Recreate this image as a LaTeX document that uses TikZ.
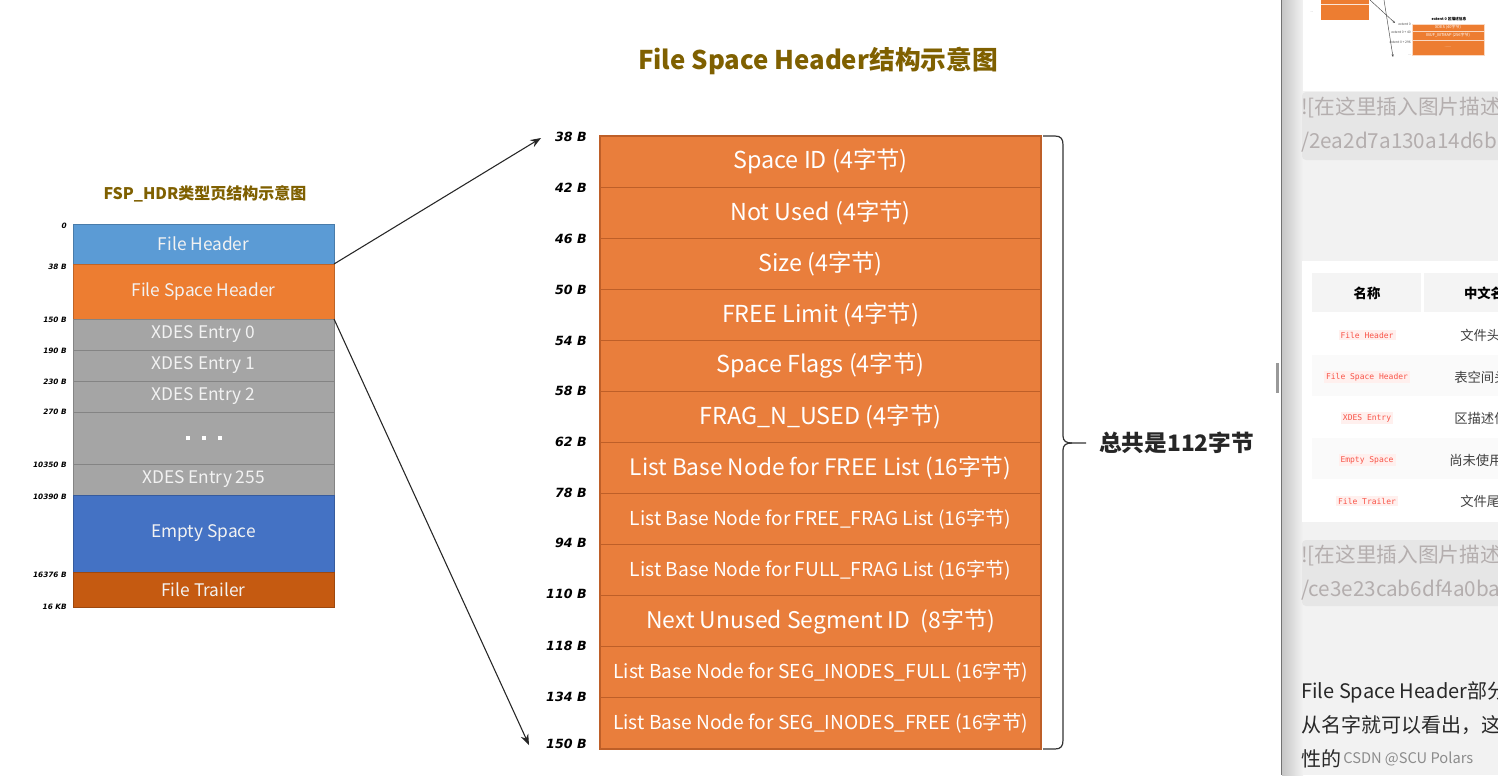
\documentclass[tikz,border=0pt]{standalone}
\usepackage{fontspec}
\setmainfont{Noto Sans CJK SC}
\newfontfamily\labfont{DejaVu Sans}
\newfontfamily\monofont{DejaVu Sans Mono}
\usetikzlibrary{arrows.meta}
\definecolor{lblue}{RGB}{91,155,213}
\definecolor{lorange}{RGB}{237,125,49}
\definecolor{lgray}{RGB}{165,165,165}
\definecolor{lblueb}{RGB}{68,114,196}
\definecolor{lbrown}{RGB}{197,90,17}
\definecolor{rorange}{RGB}{233,126,60}
\definecolor{rsep}{RGB}{190,95,40}
\definecolor{ttl}{RGB}{127,96,0}
\definecolor{ltext}{RGB}{242,242,242}
\definecolor{panelbg}{RGB}{242,242,242}
\definecolor{codebg}{RGB}{230,230,230}
\definecolor{codetext}{RGB}{180,174,174}
\definecolor{tagred}{RGB}{249,84,72}
\definecolor{tagbg}{RGB}{255,240,238}
\definecolor{thcell}{RGB}{244,244,244}
\definecolor{altrow}{RGB}{250,250,250}
\definecolor{bodytext}{RGB}{40,40,40}
\tikzset{
  lbox/.style={minimum width={261*0.75pt}, inner sep=0pt, outer sep=0pt, text=ltext,
    font=\fontsize{13}{13}\selectfont},
  rbox/.style={fill=rorange, draw=rsep, line width=0.8pt, minimum width={441*0.75pt},
    minimum height={51.083*0.75pt}, inner sep=0pt, outer sep=0pt, text=white},
  loff/.style={anchor=east, inner sep=0pt, font=\labfont\bfseries\itshape\fontsize{5.5}{5.5}\selectfont},
  roff/.style={anchor=east, inner sep=0pt, font=\labfont\bfseries\itshape\fontsize{9.5}{9.5}\selectfont},
  ttlstyle/.style={text=ttl, inner sep=0pt, font=\bfseries},
  conn/.style={draw=black!85, line width=0.8pt, -{Stealth[length=8pt,width=6pt]}},
  codeline/.style={anchor=west, inner sep=0pt, text=codetext, font=\fontsize{15.5}{15.5}\selectfont},
  tag/.style={fill=tagbg, text=tagred, inner sep=1.5pt, font=\monofont\fontsize{6}{6}\selectfont},
  cncell/.style={text=black!75, inner sep=0pt, font=\fontsize{10}{10}\selectfont},
  tiny/.style={inner sep=0pt, font=\fontsize{2.5}{2.5}\selectfont},
}
\newcommand\lrow[5]{\node[lbox, fill=#4, draw=#4!80!black, line width=0.6pt,
  minimum height={(#3-#2)*0.75pt}] (#1) at (203.5,{(#2+#3)/2}) {#5};}
\newcommand\rrow[4]{\node[rbox, font=\fontsize{#3}{#3}\selectfont] (#1) at (820.5,{136+51.083*(#2-0.5)}) {#4};}
\begin{document}
\begin{tikzpicture}[x=0.75pt,y=-0.75pt]
\useasboundingbox (0,0) rectangle (1498,775);
\fill[white] (0,0) rectangle (1498,775);

% ---------- left diagram ----------
\node[ttlstyle, font=\bfseries\fontsize{12}{12}\selectfont] (t1) at (205,194) {FSP\_HDR类型页结构示意图};
\lrow{fh}{224}{264}{lblue}{File Header}
\lrow{fsh}{264}{319}{lorange}{File Space Header}
\lrow{x0}{319}{350}{lgray}{XDES Entry 0}
\lrow{x1}{350}{381}{lgray}{XDES Entry 1}
\lrow{x2}{381}{412}{lgray}{XDES Entry 2}
\lrow{xd}{412}{464}{lgray}{\color{white}\rule{3pt}{3pt}\hspace{9pt}\rule{3pt}{3pt}\hspace{9pt}\rule{3pt}{3pt}}
\lrow{x255}{464}{495}{lgray}{XDES Entry 255}
\lrow{es}{495}{572}{lblueb}{Empty Space}
\lrow{ft}{572}{607}{lbrown}{File Trailer}

\node[loff] (lo0) at (67,226) {0};
\node[loff] (lo1) at (67,267) {38 B};
\node[loff] (lo2) at (67,320) {150 B};
\node[loff] (lo3) at (67,351) {190 B};
\node[loff] (lo4) at (67,382) {230 B};
\node[loff] (lo5) at (67,412) {270 B};
\node[loff] (lo6) at (67,465) {10350 B};
\node[loff] (lo7) at (67,497) {10390 B};
\node[loff] (lo8) at (67,575) {16376 B};
\node[loff] (lo9) at (67,607) {16 KB};

% ---------- right diagram ----------
\node[ttlstyle, font=\bfseries\fontsize{19.3}{19.3}\selectfont] (t2) at (818,61) {File Space Header结构示意图};
\rrow{r1}{1}{17.5}{Space ID (4字节)}
\rrow{r2}{2}{17.5}{Not Used (4字节)}
\rrow{r3}{3}{17.5}{Size (4字节)}
\rrow{r4}{4}{17.5}{FREE Limit (4字节)}
\rrow{r5}{5}{17.5}{Space Flags (4字节)}
\rrow{r6}{6}{17.5}{FRAG\_N\_USED (4字节)}
\rrow{r7}{7}{17}{List Base Node for FREE List (16字节)}
\rrow{r8}{8}{14.4}{List Base Node for FREE\_FRAG List (16字节)}
\rrow{r9}{9}{14.4}{List Base Node for FULL\_FRAG List (16字节)}
\rrow{r10}{10}{17.2}{Next Unused Segment ID\ \ (8字节)}
\rrow{r11}{11}{14.4}{List Base Node for SEG\_INODES\_FULL (16字节)}
\rrow{r12}{12}{14.4}{List Base Node for SEG\_INODES\_FREE (16字节)}

\node[roff] (ro1) at (587,137) {38 B};
\node[roff] (ro2) at (587,188) {42 B};
\node[roff] (ro3) at (587,239) {46 B};
\node[roff] (ro4) at (587,290) {50 B};
\node[roff] (ro5) at (587,341) {54 B};
\node[roff] (ro6) at (587,391) {58 B};
\node[roff] (ro7) at (587,442) {62 B};
\node[roff] (ro8) at (587,493) {78 B};
\node[roff] (ro9) at (587,543) {94 B};
\node[roff] (ro10) at (587,594) {110 B};
\node[roff] (ro11) at (587,646) {118 B};
\node[roff] (ro12) at (587,697) {134 B};
\node[roff] (ro13) at (587,744) {150 B};

% connectors
\coordinate (a1) at (541,138);
\coordinate (a2) at (529,745);
\draw[conn] (fsh.north east) -- (a1);
\draw[conn] (fsh.south east) -- (a2);

% brace
\draw[black!80, line width=0.9pt]
  (1043,136) -- (1055,136) .. controls (1061,136) and (1063,139) .. (1063,145)
  -- (1063,436) .. controls (1063,441) and (1066,443) .. (1072,443) -- (1086,443);
\draw[black!80, line width=0.9pt]
  (1072,443) .. controls (1066,443) and (1063,445) .. (1063,450)
  -- (1063,740) .. controls (1063,746) and (1061,749) .. (1055,749) -- (1043,749);
\node[anchor=west, inner sep=0pt, font=\bfseries\fontsize{17}{17}\selectfont, text=black!85] (tot) at (1099,443) {总共是112字节};

% ---------- browser side panel ----------
\fill[black!40] (1276,363) rectangle (1278.5,393);
\begin{scope}
\clip (1281,0) rectangle (1498,775);
\fill[panelbg] (1281,0) rectangle (1498,775);
\shade[left color=black!22, right color=panelbg] (1282,0) rectangle (1303,775);
\draw[black!55, line width=1.2pt] (1281.5,0) -- (1281.5,775);

% thumbnail
\fill[white] (1303,0) rectangle (1498,91);
\fill[lorange] (1321,0) rectangle (1369,20);
\draw[white!80!lorange, line width=0.4pt] (1321,4) -- (1369,4);
\node[tiny, text=black!60] (tl2) at (1312,12) {...};
\coordinate (tc1) at (1395,23);
\coordinate (tc2) at (1393,57);
\draw[black!70, line width=0.35pt, -{Stealth[length=2pt,width=1.6pt]}] (1370,0) -- (tc1);
\draw[black!70, line width=0.35pt, -{Stealth[length=2pt,width=1.6pt]}] (1384,0) -- (tc2);
\node[tiny, font=\bfseries\fontsize{2.8}{2.8}\selectfont] (tt) at (1449,19) {extent 0 区描述信息};
\node[draw=white!70!lorange, fill=lorange, line width=0.3pt, minimum width={72*0.75pt}, minimum height={7*0.75pt}, inner sep=0pt, text=white, font=\fontsize{3}{3}\selectfont] (tb1) at (1448,27.5) {XDES (40字节)};
\node[draw=white!70!lorange, fill=lorange, line width=0.3pt, minimum width={72*0.75pt}, minimum height={9*0.75pt}, inner sep=0pt, text=white, font=\fontsize{3}{3}\selectfont] (tb2) at (1448,35.5) {IBUF\_BITMAP (256字节)};
\node[draw=white!70!lorange, fill=lorange, line width=0.3pt, minimum width={72*0.75pt}, minimum height={15*0.75pt}, inner sep=0pt, text=white, font=\fontsize{3}{3}\selectfont] (tb3) at (1448,47.5) {......};
\node[tiny, anchor=east, text=black!70] (tlb1) at (1411,24) {extent 0};
\node[tiny, anchor=east, text=black!70] (tlb2) at (1411,32) {extent 0 + 40};
\node[tiny, anchor=east, text=black!70] (tlb3) at (1411,42) {extent 0 + 296};
\node[tiny, anchor=east, text=black!70] (tlb4) at (1411,55) {...};

% code block 1
\fill[codebg, rounded corners=3pt] (1302,92) rectangle (1510,160);
\node[codeline] (c1a) at (1301,108) {![在这里插入图片描述};
\node[codeline] (c1b) at (1301,142) {/2ea2d7a130a14d6b8};

% table card
\fill[white] (1302,261) rectangle (1510,522);
\fill[thcell] (1312,273) rectangle (1421,312);
\fill[thcell] (1424,273) rectangle (1510,312);
\fill[altrow] (1312,355) rectangle (1510,396);
\fill[altrow] (1312,438) rectangle (1510,479);
\node[inner sep=0pt, font=\bfseries\fontsize{10}{10}\selectfont] (th1) at (1367,293) {名称};
\node[inner sep=0pt, font=\bfseries\fontsize{10}{10}\selectfont] (th2) at (1484,293) {中文名};
\node[tag] (n1) at (1367,335) {File Header};
\node[tag] (n2) at (1367,377) {File Space Header};
\node[tag] (n3) at (1367,418) {XDES Entry};
\node[tag] (n4) at (1367,460) {Empty Space};
\node[tag] (n5) at (1367,501) {File Trailer};
\node[cncell, anchor=west] (m1) at (1460,335) {文件头部};
\node[cncell, anchor=west] (m2) at (1454,377) {表空间头部};
\node[cncell, anchor=west] (m3) at (1454,418) {区描述信息};
\node[cncell, anchor=west] (m4) at (1449,460) {尚未使用空间};
\node[cncell, anchor=west] (m5) at (1460,501) {文件尾部};

% code block 2
\fill[codebg, rounded corners=3pt] (1302,540) rectangle (1510,606);
\node[codeline] (c2a) at (1301,556) {![在这里插入图片描述};
\node[codeline] (c2b) at (1301,590) {/ce3e23cab6df4a0ba};

% body text
\node[anchor=west, inner sep=0pt, text=bodytext, font=\fontsize{15}{15}\selectfont] (p1) at (1301,692) {File Space Header部分};
\node[anchor=west, inner sep=0pt, text=bodytext, font=\fontsize{15}{15}\selectfont] (p2) at (1301,725) {从名字就可以看出，这};
\node[anchor=west, inner sep=0pt, text=bodytext, font=\fontsize{15}{15}\selectfont] (p3) at (1301,759) {性的};
\node[anchor=west, inner sep=0pt, text=black!45, font=\fontsize{11}{11}\selectfont] (wm) at (1343,759) {CSDN @SCU Polars};
\end{scope}
\end{tikzpicture}
\end{document}
